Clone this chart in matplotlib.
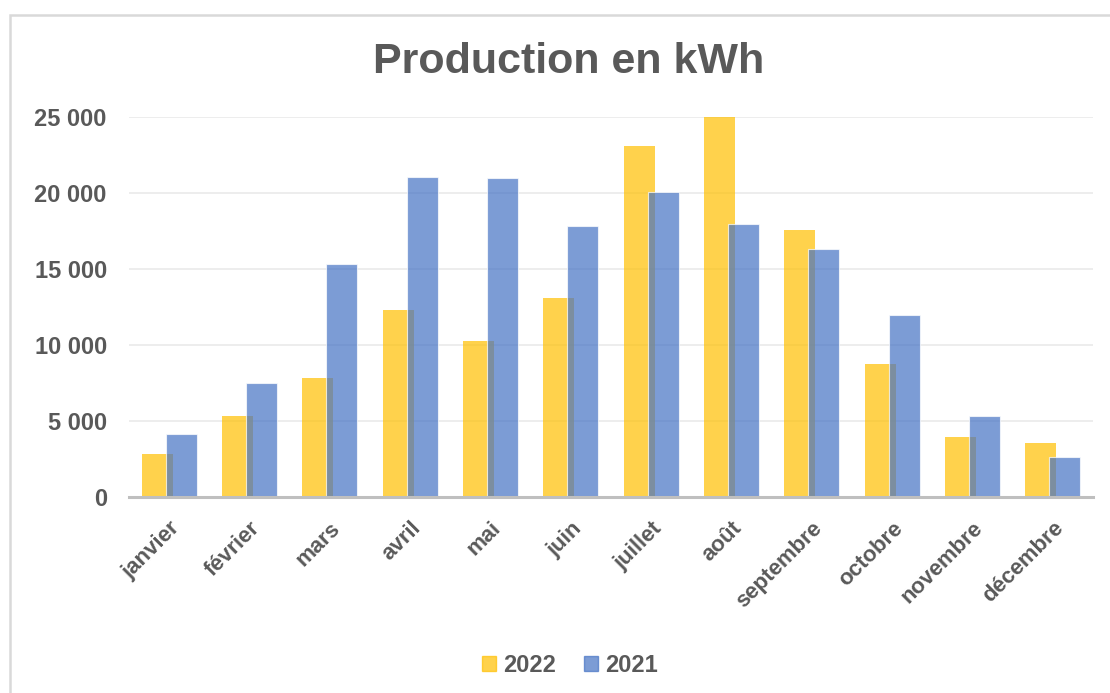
import matplotlib
matplotlib.use("Agg")
import matplotlib.pyplot as plt
import matplotlib.patches as mpatches
from matplotlib.ticker import FuncFormatter
import numpy as np

months = ["janvier", "février", "mars", "avril", "mai", "juin", "juillet",
          "août", "septembre", "octobre", "novembre", "décembre"]
prod_2022 = [2800, 5340, 7850, 12270, 10290, 13060, 23090, 25000, 17550, 8770, 3960, 3560]
prod_2021 = [4150, 7520, 15300, 21040, 20980, 17810, 20050, 17940, 16290, 12000, 5340, 2640]
series_labels = ["2022", "2021"]
y_ticks = [0, 5000, 10000, 15000, 20000, 25000]
title = "Production en kWh"

TEXT = "#595959"
FONT = "Liberation Sans"
plt.rcParams["font.family"] = [FONT, "DejaVu Sans"]

fig = plt.figure(figsize=(11.1, 6.93), dpi=100)
fig.patch.set_facecolor("white")

# outer chart frame
frame = mpatches.Rectangle((10 / 1110, -0.1), 1.2, 1 - 15 / 693 + 0.1,
                           transform=fig.transFigure, fill=False,
                           edgecolor="#D9D9D9", linewidth=1.8, zorder=0)
fig.patches.append(frame)

ax = fig.add_axes([129 / 1110, 1 - 497 / 693, (1093 - 129) / 1110, (497 - 117) / 693])
x = np.arange(len(months))
w = 0.386
off = 0.149
ax.bar(x - off, prod_2022, width=w, color="#FFC000", alpha=0.7, zorder=2,
       label=series_labels[0])
ax.bar(x + off, prod_2021, width=w, color="#4472C4", alpha=0.7, zorder=3,
       edgecolor=(1, 1, 1, 0.35), linewidth=0.8, label=series_labels[1])

ax.set_xlim(-0.5, len(months) - 0.5)
ax.set_ylim(0, 25000)
ax.set_yticks(y_ticks)
ax.yaxis.set_major_formatter(FuncFormatter(lambda v, p: f"{int(v):,}".replace(",", " ")))
ax.grid(axis="y", color="#EDEDED", linewidth=1.4, zorder=0)
ax.set_axisbelow(True)
for s in ["top", "right", "left"]:
    ax.spines[s].set_visible(False)
ax.spines["bottom"].set_color("#BFBFBF")
ax.spines["bottom"].set_linewidth(2.2)
ax.spines["bottom"].set_zorder(4)

ax.set_xticks(x)
ax.set_xticklabels(months, rotation=45, ha="right", rotation_mode="anchor",
                   fontsize=16, fontweight="bold", color=TEXT)
ax.tick_params(axis="x", length=0, pad=15)
ax.tick_params(axis="y", length=0, pad=16, labelsize=17, labelcolor=TEXT)
for lab in ax.get_yticklabels():
    lab.set_fontweight("bold")

fig.text(0.512, 1 - 62 / 693, title, ha="center", va="center",
         fontsize=31, fontweight="bold", color=TEXT)

handles = [mpatches.Patch(color="#FFC000", alpha=0.7),
           mpatches.Patch(color="#4472C4", alpha=0.7)]
leg = fig.legend(handles, series_labels, loc="center", ncol=2,
                 bbox_to_anchor=(570 / 1110, 1 - 665 / 693), frameon=False,
                 handlelength=0.6, handleheight=0.6, handletextpad=0.3,
                 columnspacing=1.2, prop={"size": 17, "weight": "bold"})
for t in leg.get_texts():
    t.set_color(TEXT)

fig.savefig("out.png", dpi=100, facecolor="white")
